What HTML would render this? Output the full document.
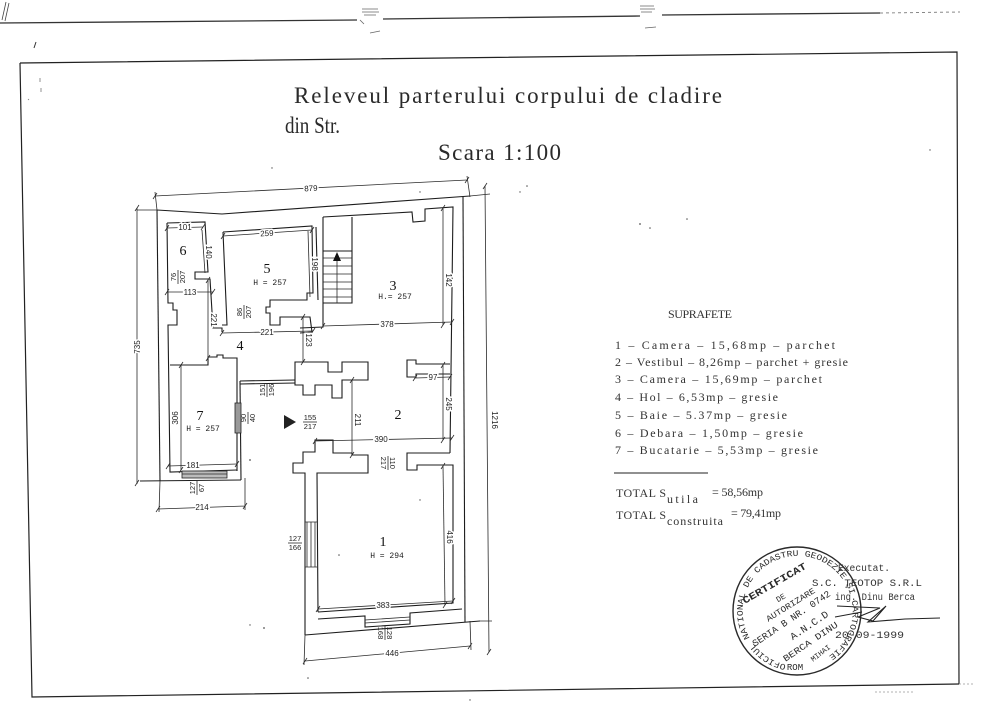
<!DOCTYPE html>
<html><head><meta charset="utf-8">
<style>
html,body{margin:0;padding:0;background:#fff;}
svg{display:block;}
.w{fill:none;stroke:#1c1c1c;stroke-width:1.1;}
.d{fill:none;stroke:#2a2a2a;stroke-width:0.8;}
.n{font-family:"Liberation Sans",sans-serif;font-size:8px;fill:#222;stroke:#fff;stroke-width:3px;paint-order:stroke;text-anchor:middle;}
.f{font-family:"Liberation Sans",sans-serif;font-size:7.5px;fill:#222;text-anchor:middle;}
.r{font-family:"Liberation Serif",serif;font-size:14px;fill:#111;text-anchor:middle;}
.h{font-family:"Liberation Mono",monospace;font-size:8px;fill:#222;text-anchor:middle;}
.ti{font-family:"Liberation Serif",serif;font-size:23px;fill:#2a2a2a;}
.tb{font-family:"Liberation Serif",serif;font-size:12px;fill:#333;}
.st{font-family:"Liberation Mono",monospace;fill:#2a2a2a;}
</style></head><body>
<svg width="992" height="720" viewBox="0 0 992 720" xmlns="http://www.w3.org/2000/svg">
<rect width="992" height="720" fill="#fff"/>

<path d="M2,20 L6,2 M5,21 L9,3" stroke="#444" stroke-width="0.8" fill="none"/>
<path d="M0,23 L357,20" stroke="#333" stroke-width="1.3" fill="none"/>
<path d="M383,19 L640,16" stroke="#333" stroke-width="1.3" fill="none"/>
<path d="M662,15 L880,13" stroke="#333" stroke-width="1.3" fill="none"/>
<path d="M880,13 L960,12" stroke="#888" stroke-width="1" stroke-dasharray="3 3" fill="none"/>
<path d="M362,9 L378,9 M362,12 L379,12 M364,15 L376,15 M360,20 L364,24 M370,33 L380,31" stroke="#666" stroke-width="0.8" fill="none"/>
<path d="M640,6 L654,6 M640,9 L655,9 M641,12 L652,12 M645,28 L656,27" stroke="#666" stroke-width="0.8" fill="none"/>
<path d="M36,42 L34,48" stroke="#333" stroke-width="1" fill="none"/>
<path d="M40,78 L40,82 M41,88 L41,92 M28,99 L29,100" stroke="#777" stroke-width="0.8" fill="none"/>

<path d="M20,63 L957,52 L959,684" stroke="#222" stroke-width="1.2" fill="none"/>
<path d="M20,63 L32,697 L959,684" stroke="#222" stroke-width="1.2" fill="none"/>
<path d="M959,684 L975,684" stroke="#999" stroke-width="0.8" stroke-dasharray="2 2" fill="none"/>
<path d="M875,692 L915,692" stroke="#999" stroke-width="0.8" stroke-dasharray="2 2" fill="none"/>

<text class="ti" x="294" y="103" textLength="428" lengthAdjust="spacing">Releveul parterului corpului de cladire</text>
<text class="ti" x="285" y="133" textLength="55" lengthAdjust="spacingAndGlyphs">din Str.</text>
<text class="ti" x="438" y="160" textLength="123" lengthAdjust="spacing">Scara 1:100</text>

<path class="w" d="M157,210 L222,214 L470,196"/>
<path class="w" d="M157,210 L160,481"/>
<path class="w" d="M140,481 L241,480"/>
<path class="w" d="M463,197 L465,622"/>
<path class="w" d="M305,635 L480,621"/>

<path class="w" d="M167,223 L168,303 L173,303 L173,310 L177,310 L177,325 L168,325 L170,472 L237,470"/>
<rect x="182" y="471" width="45" height="7" fill="#bbb" stroke="#222" stroke-width="0.8"/>
<path class="d" d="M182,474 L227,474"/>
<path class="w" d="M167,223 L205,222 L208,272 L195,272 L195,279 L210,279 L213,328 L222,328 L222,332"/>
<path class="w" d="M223,232 L312,226 L313,293 L307,293 L307,300 L270,300 L270,307 L266,307 L266,313 L270,313 L270,325 L280,325 L280,317 L310,317 L312,332 L300,333"/>
<path class="w" d="M223,232 L227,325 L222,325"/>
<path class="w" d="M316,227 L318,300"/>
<path class="w" d="M323,217 L412,212 L413,222 L425,221 L425,209 L453,207 L450,453"/>
<path class="w" d="M323,217 L323,327 L300,328"/>
<path class="w" d="M352,217 L352,303 L323,303 M323,251 L352,251"/>
<path class="d" d="M323,258 L352,258 M323,266 L352,266 M323,274 L352,274 M323,282 L352,282 M323,289 L352,289 M323,297 L352,297 M337,256 L337,303"/>
<path d="M333,261 L337,252 L341,261 Z" fill="#111"/>

<path class="w" d="M170,365 L208,365 L208,357 L217,357 L217,355 L223,355 L223,358 L237,358 L237,471"/>
<path class="w" d="M240,381 L241,480"/>
<rect x="235" y="403" width="6" height="30" fill="#999" stroke="#222" stroke-width="0.8"/>
<path class="w" d="M240,381 L295,380 M240,384 L295,383"/>

<path class="w" d="M295,362 L328,362 L328,372 L342,372 L342,362 L368,362 L368,380 L342,380 L342,398 L332,398 L332,385 L315,385 L315,395 L303,395 L303,385 L295,385 Z"/>
<path class="w" d="M450,364 L416,364 L416,360 L407,360 L407,377 L416,377 L416,374 L450,374"/>
<path class="w" d="M318,612 L317,473 L368,473 L368,455 L352,455 L352,453 L333,453 L333,440 L315,440 L315,452 L303,452 L303,463 L293,463 L293,473 L305,473 L305,635"/>
<path class="w" d="M450,453 L407,453 L407,470 L417,470 L417,465 L447,465 L453,465 L453,603 L318,612"/>
<path class="w" d="M318,619 L365,616 L365,627 L410,624 L410,613 L462,609"/>
<path class="d" d="M365,620 L410,617 M365,623 L410,620"/>
<path class="d" d="M307,522 L307,567 M311,522 L311,567 M315,522 L315,567 M305,522 L317,522 M305,567 L317,567"/>

<g class="d">
<path d="M155,196 L467,180 M155,192 L157,210 M467,176 L470,197"/>
<path d="M137,208 L137,484 M137,210 L157,210"/>
<path d="M485,186 L489,652 M470,196 L490,194 M480,621 L492,621"/>
<path d="M167,228 L203,227"/>
<path d="M202,230 L205,273"/>
<path d="M167,292 L213,292"/>
<path d="M223,236 L312,230"/>
<path d="M308,231 L310,297"/>
<path d="M222,333 L313,331"/>
<path d="M208,280 L208,358"/>
<path d="M303,317 L303,362"/>
<path d="M323,326 L452,322"/>
<path d="M443,208 L443,325"/>
<path d="M415,378 L450,377"/>
<path d="M443,365 L443,440"/>
<path d="M352,380 L352,455"/>
<path d="M315,441 L452,438"/>
<path d="M443,466 L445,605"/>
<path d="M318,609 L453,601"/>
<path d="M305,661 L470,646 M305,635 L304,665 M470,621 L471,650"/>
<path d="M168,466 L237,464"/>
<path d="M158,509 L245,506 M160,481 L159,512 M245,478 L245,510"/>
<path d="M181,365 L181,470"/>
</g>
<path class="d" d="M153,199 L157,193 M465,183 L469,177 M135,211 L139,205 M135,486 L139,480 M483,189 L487,183 M487,655 L491,649 M165,231 L169,225 M201,230 L205,224 M165,295 L169,289 M211,295 L215,289 M221,239 L225,233 M310,233 L314,227 M206,283 L210,277 M206,361 L210,355 M220,336 L224,330 M311,334 L315,328 M301,320 L305,314 M301,365 L305,359 M321,329 L325,323 M450,325 L454,319 M441,211 L445,205 M441,328 L445,322 M413,381 L417,375 M448,380 L452,374 M441,368 L445,362 M441,443 L445,437 M350,383 L354,377 M350,458 L354,452 M313,444 L317,438 M450,441 L454,435 M441,469 L445,463 M443,608 L447,602 M316,612 L320,606 M451,604 L455,598 M303,664 L307,658 M468,649 L472,643 M166,469 L170,463 M235,467 L239,461 M156,512 L160,506 M243,509 L247,503 M179,368 L183,362 M179,473 L183,467"/>

<text class="n" transform="translate(311,191) rotate(-3)">879</text>
<text class="n" transform="translate(140,347) rotate(-90)">735</text>
<text class="n" transform="translate(492,420) rotate(90)">1216</text>
<text class="n" x="185" y="230">101</text>
<text class="n" transform="translate(206,252) rotate(90)">140</text>
<text class="n" x="190" y="295">113</text>
<text class="n" transform="translate(267,236) rotate(-3)">259</text>
<text class="n" transform="translate(312,264) rotate(90)">198</text>
<text class="n" x="267" y="335">221</text>
<text class="n" transform="translate(211,320) rotate(90)">221</text>
<text class="n" transform="translate(306,340) rotate(90)">123</text>
<text class="n" x="387" y="327">378</text>
<text class="n" transform="translate(446,280) rotate(90)">142</text>
<text class="n" x="433" y="380">97</text>
<text class="n" transform="translate(446,404) rotate(90)">245</text>
<text class="n" transform="translate(355,420) rotate(90)">211</text>
<text class="n" x="381" y="442">390</text>
<text class="n" transform="translate(447,537) rotate(90)">416</text>
<text class="n" x="383" y="608">383</text>
<text class="n" x="392" y="656">446</text>
<text class="n" x="193" y="468">181</text>
<text class="n" x="202" y="510">214</text>
<text class="n" transform="translate(178,418) rotate(-90)">306</text>

<g transform="translate(310,422)"><text class="f" x="0" y="-2">155</text><path class="d" d="M-7,0 L7,0"/><text class="f" x="0" y="7">217</text></g>
<g transform="translate(295,543)"><text class="f" x="0" y="-2">127</text><path class="d" d="M-7,0 L7,0"/><text class="f" x="0" y="7">166</text></g>
<g transform="translate(178,277) rotate(-90)"><text class="f" x="0" y="-2">76</text><path class="d" d="M-7,0 L7,0"/><text class="f" x="0" y="7">207</text></g>
<g transform="translate(244,312) rotate(-90)"><text class="f" x="0" y="-2">86</text><path class="d" d="M-7,0 L7,0"/><text class="f" x="0" y="7">207</text></g>
<g transform="translate(267,390) rotate(-90)"><text class="f" x="0" y="-2">151</text><path class="d" d="M-7,0 L7,0"/><text class="f" x="0" y="7">196</text></g>
<g transform="translate(248,418) rotate(-90)"><text class="f" x="0" y="-2">90</text><path class="d" d="M-6,0 L6,0"/><text class="f" x="0" y="7">40</text></g>
<g transform="translate(388,463) rotate(90)"><text class="f" x="0" y="-2">110</text><path class="d" d="M-7,0 L7,0"/><text class="f" x="0" y="7">217</text></g>
<g transform="translate(385,633) rotate(90)"><text class="f" x="0" y="-2">128</text><path class="d" d="M-7,0 L7,0"/><text class="f" x="0" y="7">168</text></g>
<g transform="translate(197,488) rotate(-90)"><text class="f" x="0" y="-2">127</text><path class="d" d="M-7,0 L7,0"/><text class="f" x="0" y="7">67</text></g>

<path d="M284,415 L296,422 L284,429 Z" fill="#222"/>

<text class="r" x="183" y="255">6</text>
<text class="r" x="267" y="273">5</text><text class="h" x="270" y="285">H = 257</text>
<text class="r" x="393" y="290">3</text><text class="h" x="395" y="299">H.= 257</text>
<text class="r" x="240" y="350">4</text>
<text class="r" x="398" y="419">2</text>
<text class="r" x="200" y="420">7</text><text class="h" x="203" y="431">H = 257</text>
<text class="r" x="383" y="546">1</text><text class="h" x="387" y="558">H = 294</text>

<g fill="#555">
<circle cx="640" cy="224" r="0.9"/><circle cx="650" cy="228" r="0.8"/><circle cx="687" cy="219" r="0.8"/>
<circle cx="527" cy="186" r="0.8"/><circle cx="520" cy="192" r="0.7"/><circle cx="264" cy="628" r="0.9"/>
<circle cx="250" cy="625" r="0.7"/><circle cx="250" cy="460" r="0.9"/><circle cx="339" cy="555" r="0.8"/>
<circle cx="272" cy="168" r="0.7"/><circle cx="420" cy="192" r="0.7"/><circle cx="308" cy="678" r="0.8"/>
<circle cx="420" cy="500" r="0.7"/><circle cx="930" cy="150" r="0.7"/><circle cx="470" cy="700" r="0.7"/>
</g>

<text class="tb" x="668" y="318" textLength="64" lengthAdjust="spacing">SUPRAFETE</text>
<text class="tb" x="615" y="349" textLength="220" lengthAdjust="spacing">1 – Camera – 15,68mp – parchet</text>
<text class="tb" x="615" y="366" textLength="233" lengthAdjust="spacing">2 – Vestibul – 8,26mp – parchet + gresie</text>
<text class="tb" x="615" y="383" textLength="207" lengthAdjust="spacing">3 – Camera – 15,69mp – parchet</text>
<text class="tb" x="615" y="401" textLength="163" lengthAdjust="spacing">4 – Hol – 6,53mp – gresie</text>
<text class="tb" x="615" y="419" textLength="172" lengthAdjust="spacing">5 – Baie – 5.37mp – gresie</text>
<text class="tb" x="615" y="437" textLength="188" lengthAdjust="spacing">6 – Debara – 1,50mp – gresie</text>
<text class="tb" x="615" y="454" textLength="203" lengthAdjust="spacing">7 – Bucatarie – 5,53mp – gresie</text>
<path d="M614,473 L708,473" stroke="#222" stroke-width="1" fill="none"/>
<text class="tb" x="616" y="497" textLength="50" lengthAdjust="spacing">TOTAL S</text>
<text class="tb" x="667" y="503" textLength="31" lengthAdjust="spacing">utila</text>
<text class="tb" x="712" y="496" textLength="51" lengthAdjust="spacing">= 58,56mp</text>
<text class="tb" x="616" y="519" textLength="50" lengthAdjust="spacing">TOTAL S</text>
<text class="tb" x="667" y="525" textLength="56" lengthAdjust="spacing">construita</text>
<text class="tb" x="731" y="517" textLength="50" lengthAdjust="spacing">= 79,41mp</text>

<circle cx="797" cy="611" r="64" fill="none" stroke="#2a2a2a" stroke-width="1.4"/>
<path id="ring" d="M788,665 A55,55 0 1,1 826,658" fill="none"/>
<text class="st" font-size="8.5"><textPath href="#ring" startOffset="2" textLength="300" lengthAdjust="spacingAndGlyphs">OFICIUL NATIONAL DE CADASTRU GEODEZIE ŞI CARTOGRAFIE</textPath></text>
<text class="st" font-size="9" x="795" y="670" text-anchor="middle">ROM</text>
<g transform="translate(776,586) rotate(-30)"><text class="st" font-size="10" font-weight="bold" text-anchor="middle" textLength="72" lengthAdjust="spacingAndGlyphs">CERTIFICAT</text></g>
<g transform="translate(782,600) rotate(-30)"><text class="st" font-size="8" text-anchor="middle">DE</text></g>
<g transform="translate(792,607) rotate(-32)"><text class="st" font-size="8.5" text-anchor="middle" textLength="56" lengthAdjust="spacingAndGlyphs">AUTORIZARE</text></g>
<g transform="translate(793,621) rotate(-34)"><text class="st" font-size="9.5" text-anchor="middle" textLength="92" lengthAdjust="spacingAndGlyphs">SERIA B NR. 0742</text></g>
<g transform="translate(811,628) rotate(-34)"><text class="st" font-size="10" text-anchor="middle" textLength="44" lengthAdjust="spacingAndGlyphs">A.N.C.D</text></g>
<g transform="translate(812,644) rotate(-34)"><text class="st" font-size="9" text-anchor="middle" textLength="64" lengthAdjust="spacingAndGlyphs">BERCA DINU</text></g>
<g transform="translate(822,655) rotate(-38)"><text class="st" font-size="7.5" text-anchor="middle">MIHAI</text></g>

<text font-family="Liberation Mono,monospace" font-size="10" fill="#333" x="838" y="571" textLength="52" lengthAdjust="spacingAndGlyphs">Executat.</text>
<text font-family="Liberation Mono,monospace" font-size="10" fill="#333" x="812" y="586" textLength="110" lengthAdjust="spacingAndGlyphs">S.C. TEOTOP S.R.L</text>
<text font-family="Liberation Mono,monospace" font-size="10" fill="#333" x="835" y="600" textLength="80" lengthAdjust="spacingAndGlyphs">ing. Dinu Berca</text>
<path d="M837,606 L880,608 L858,617 L873,621 L886,606 L868,622 L905,619 L940,618" stroke="#222" stroke-width="1.1" fill="none"/>
<path d="M835,617 L862,612" stroke="#222" stroke-width="0.9" fill="none"/>
<text font-family="Liberation Mono,monospace" font-size="10" fill="#333" x="835" y="638" textLength="69" lengthAdjust="spacingAndGlyphs">20-09-1999</text>

</svg>
</body></html>
